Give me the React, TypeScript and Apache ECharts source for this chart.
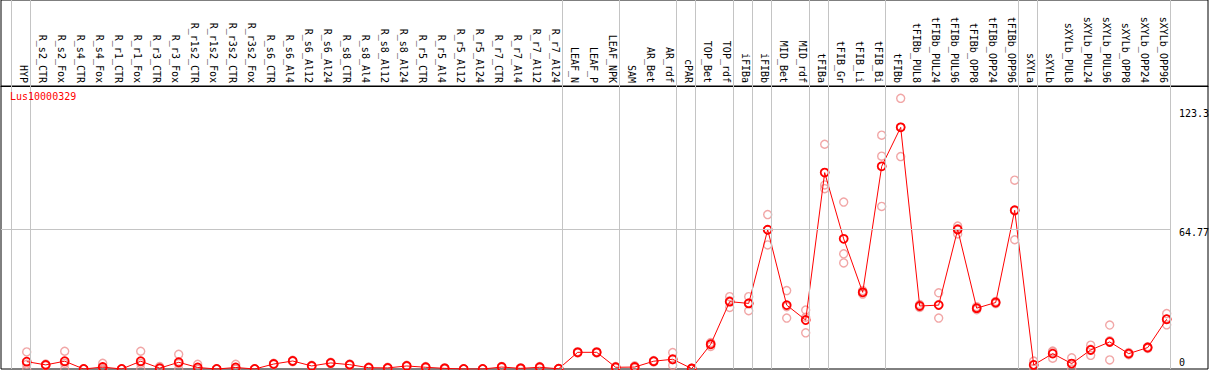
import React, { useEffect, useRef } from "react";
import * as echarts from "echarts";

const geneName = "Lus10000329";

const categories = [
  "HYP", "R_s2_CTR", "R_s2_Fox", "R_s4_CTR", "R_s4_Fox", "R_r1_CTR", "R_r1_Fox", "R_r3_CTR", "R_r3_Fox",
  "R_r1s2_CTR", "R_r1s2_Fox", "R_r3s2_CTR", "R_r3s2_Fox", "R_s6_CTR", "R_s6_Al4", "R_s6_Al12", "R_s6_Al24",
  "R_s8_CTR", "R_s8_Al4", "R_s8_Al12", "R_s8_Al24", "R_r5_CTR", "R_r5_Al4", "R_r5_Al12", "R_r5_Al24",
  "R_r7_CTR", "R_r7_Al4", "R_r7_Al12", "R_r7_Al24", "LEAF_N", "LEAF_P", "LEAF_NPK", "SAM", "AR_Bet", "AR_rdf",
  "cPAR", "TOP_Bet", "TOP_rdf", "iFIBa", "iFIBb", "MID_Bet", "MID_rdf", "tFIBa", "tFIB_Gr", "tFIB_Li", "tFIB_Bi",
  "tFIBb", "tFIBb_PUL8", "tFIBb_PUL24", "tFIBb_PUL96", "tFIBb_OPP8", "tFIBb_OPP24", "tFIBb_OPP96",
  "sXYLa", "sXYLb", "sXYLb_PUL8", "sXYLb_PUL24", "sXYLb_PUL96", "sXYLb_OPP8", "sXYLb_OPP24", "sXYLb_OPP96",
];

const means = [
  3.4, 1.9, 3.6, 0, 0.9, 0, 3.6, 0.4, 3.1,
  0.7, 0, 0.7, 0, 2.3, 3.7, 1.4, 2.8,
  2.0, 0.6, 0.5, 1.4, 0.8, 0.3, 0, 0,
  0.9, 0.3, 0.8, 0.1, 7.7, 7.7, 0.8, 0.9, 3.6, 4.5,
  0.2, 11.4, 31.1, 30.3, 64.3, 29.5, 22.6, 90.7, 60.1, 35.4, 93.6,
  111.6, 29.1, 29.5, 64.4, 28.1, 30.7, 73.3,
  1.9, 7.1, 2.5, 8.8, 12.5, 7.1, 9.9, 23.0,
];

const rep1 = [
  7.9, 2.3, 8.2, 0, 2.6, 0, 8.2, 1.1, 6.8,
  2.2, 0, 2.2, 0, 2.6, 4.0, 1.7, 3.1,
  2.3, 0.9, 0.8, 1.7, 1.1, 0.6, 0, 0,
  1.2, 0.6, 1.1, 0.2, 8.0, 8.0, 1.1, 1.5, 3.9, 7.6,
  0.4, 12.2, 33.4, 33.4, 71.3, 36.2, 27.2, 103.8, 77.1, 36.2, 108.0,
  125.0, 29.8, 35.2, 66.0, 28.8, 31.2, 87.2,
  3.7, 8.3, 5.2, 11.0, 20.3, 7.6, 10.3, 25.6,
];

const rep2 = [
  2.2, 1.9, 2.6, 0, 0.1, 0, 2.6, 0.1, 2.5,
  0, 0, 0, 0, 2.3, 3.7, 1.4, 2.8,
  2.0, 0.6, 0.5, 1.4, 0.8, 0.3, 0, 0,
  0.9, 0.3, 0.8, 0.1, 7.7, 7.7, 0.8, 0.9, 3.6, 4.3,
  0.2, 11.6, 31.5, 30.5, 64.3, 28.8, 23.9, 85.0, 53.2, 35.4, 98.3,
  111.7, 29.1, 29.8, 64.8, 28.1, 30.7, 73.0,
  1.9, 7.9, 2.4, 9.1, 13.0, 7.1, 9.9, 23.0,
];

const rep3 = [
  0.1, 1.5, 0, 0, 0, 0, 0, 0, 0,
  0, 0, 0, 0, 2.0, 3.4, 1.1, 2.5,
  1.7, 0.3, 0.2, 1.1, 0.5, 0, 0, 0,
  0.6, 0, 0.5, 0, 7.4, 7.4, 0.5, 0.3, 3.3, 1.7,
  0, 10.4, 28.4, 26.9, 57.3, 23.5, 16.7, 83.3, 49.0, 34.6, 75.1,
  98.1, 28.4, 23.5, 62.4, 27.4, 30.2, 59.7,
  0, 5.0, 0, 6.3, 4.2, 6.6, 9.5, 20.4,
];

// indices of the last category of each group (separator drawn after it); -1 = before the first
const groupEnds = [-1, 0, 28, 31, 34, 35, 37, 38, 39, 41, 42, 45, 52, 53, 60];
const refLineValue = 64.77;
const yTickValues = [0, 64.77, 123.3];
const yTickLabels = ["0", "64.77", "123.3"];

// layout / style constants
const MONO = '"DejaVu Sans Mono", "Liberation Mono", monospace';
const X_MIN = -1.353;
const X_MAX = 62.174;
const LABEL_SHIFT = 0.184;
const SEP_OFFSET = 0.21;
const Y_MAX = 130.7;
const Y_LABEL_DY = [-7, 3.5, 11];

export default function App() {
  const ref = useRef<HTMLDivElement>(null);
  useEffect(() => {
    if (!ref.current) return;
    const chart = echarts.init(ref.current, null, { renderer: "svg" });
    const repStyle = {
      color: "rgba(255,255,255,0)",
      borderColor: "#ee9090",
      borderWidth: 1.4,
    };
    const mk = (arr: number[]) => arr.map((v, i) => [i, v]);
    const sepLineStyle = { color: "#c4c4c4", width: 1, type: "solid" };
    const sepData = groupEnds.map((g) => ({ xAxis: g + SEP_OFFSET }));
    chart.setOption({
      animation: false,
      backgroundColor: "#fff",
      title: {
        text: geneName,
        left: 10,
        top: 91,
        padding: 0,
        textStyle: { color: "#ff0000", fontSize: 10, fontWeight: "normal", fontFamily: MONO },
      },
      grid: [
        {
          left: 1,
          right: 1,
          top: 86,
          bottom: 1,
          show: true,
          borderColor: "#000",
          borderWidth: 1,
          backgroundColor: "#fff",
        },
        {
          left: 1,
          right: 1,
          top: 0,
          height: 86,
          show: true,
          borderColor: "#000",
          borderWidth: 1,
          backgroundColor: "#fff",
        },
      ],
      xAxis: [
        {
          type: "value",
          gridIndex: 0,
          position: "top",
          min: X_MIN + LABEL_SHIFT,
          max: X_MAX + LABEL_SHIFT,
          axisLine: { show: true, onZero: false, lineStyle: { color: "#000", width: 1 } },
          axisTick: { show: false },
          splitLine: { show: false },
          axisLabel: {
            customValues: categories.map((_, i) => i),
            formatter: (v: number) => categories[Math.round(v)] ?? "",
            rotate: 90,
            margin: 3,
            fontFamily: MONO,
            fontSize: 10,
            color: "#000",
          },
        },
        {
          type: "value",
          gridIndex: 0,
          min: X_MIN,
          max: X_MAX,
          show: false,
        },
        {
          type: "value",
          gridIndex: 1,
          min: X_MIN,
          max: X_MAX,
          show: false,
        },
      ],
      yAxis: [
        {
          type: "value",
          gridIndex: 0,
          min: 0,
          max: Y_MAX,
          show: false,
          splitLine: { show: false },
        },
        {
          type: "value",
          gridIndex: 1,
          min: 0,
          max: 1,
          show: false,
          splitLine: { show: false },
        },
      ],
      series: [
        {
          type: "scatter",
          xAxisIndex: 2,
          yAxisIndex: 1,
          data: [[X_MIN - 5, -5]],
          symbolSize: 0,
          silent: true,
          z: 1,
          markLine: {
            silent: true,
            symbol: ["none", "none"],
            label: { show: false },
            lineStyle: sepLineStyle,
            data: sepData,
          },
        },
        {
          type: "scatter",
          xAxisIndex: 1,
          yAxisIndex: 0,
          data: mk(rep1),
          symbol: "circle",
          symbolSize: 8,
          itemStyle: repStyle,
          z: 2,
          silent: true,
          markLine: {
            silent: true,
            symbol: ["none", "none"],
            label: { show: false },
            lineStyle: sepLineStyle,
            data: [
              ...sepData,
              [
                { coord: [X_MIN, refLineValue] },
                { coord: [60 + SEP_OFFSET, refLineValue] },
              ],
            ],
          },
        },
        {
          type: "scatter",
          xAxisIndex: 1,
          yAxisIndex: 0,
          data: mk(rep2),
          symbol: "circle",
          symbolSize: 8,
          itemStyle: repStyle,
          z: 2,
          silent: true,
        },
        {
          type: "scatter",
          xAxisIndex: 1,
          yAxisIndex: 0,
          data: mk(rep3),
          symbol: "circle",
          symbolSize: 8,
          itemStyle: repStyle,
          z: 2,
          silent: true,
        },
        {
          type: "line",
          xAxisIndex: 1,
          yAxisIndex: 0,
          data: mk(means),
          symbol: "circle",
          symbolSize: 8,
          showAllSymbol: true,
          lineStyle: { color: "#ff0000", width: 1 },
          itemStyle: { color: "rgba(255,255,255,0)", borderColor: "#ff0000", borderWidth: 1.8 },
          z: 4,
          silent: true,
        },
      ],
    });
    const graphics = yTickValues.map((v, i) => {
      const py = chart.convertToPixel({ yAxisIndex: 0 }, v) as number;
      return {
        type: "text",
        x: 1179,
        y: py + Y_LABEL_DY[i],
        z: 10,
        style: {
          text: yTickLabels[i],
          fill: "#000",
          font: `10px ${MONO}`,
          verticalAlign: "middle",
          align: "left",
        },
      };
    });
    chart.setOption({ graphic: graphics });
    return () => chart.dispose();
  }, []);
  return (
    <div
      ref={ref}
      style={{ position: "fixed", left: 0, top: 0, width: 1209, height: 370 }}
    />
  );
}
